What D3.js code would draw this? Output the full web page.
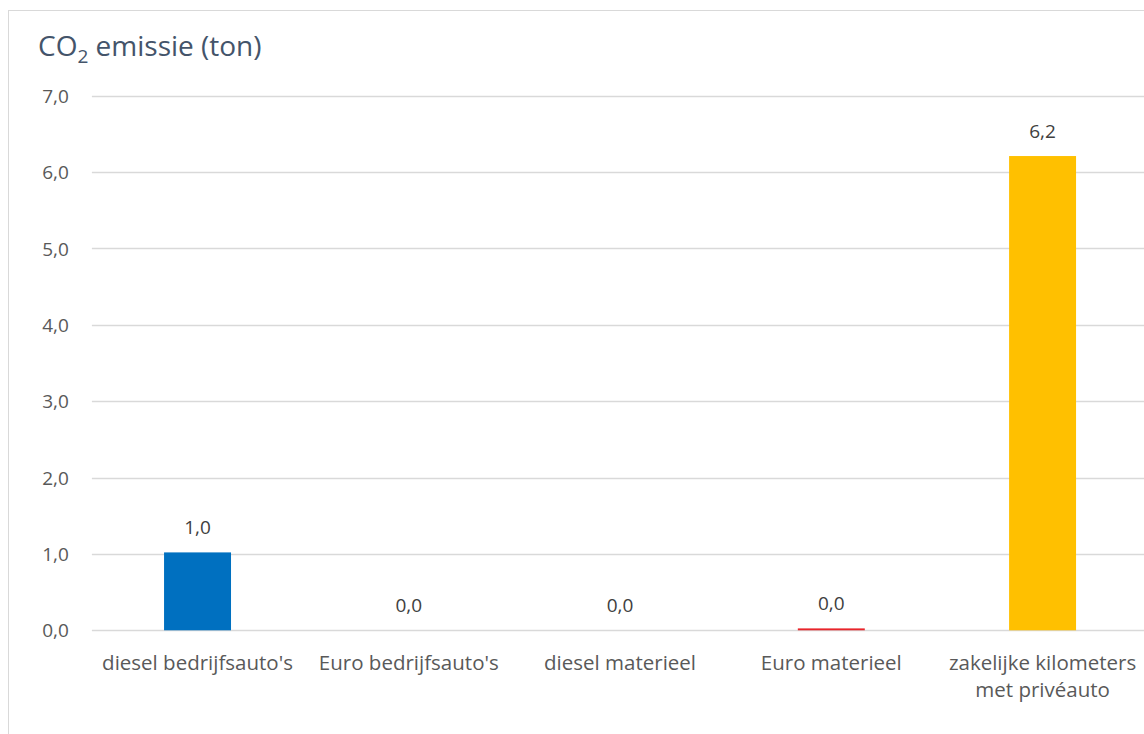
<!DOCTYPE html>
<html><head><meta charset="utf-8">
<script src="https://cdn.jsdelivr.net/npm/d3@7/dist/d3.min.js"></script>
<style>
html,body{margin:0;padding:0;background:#fff;overflow:hidden;}
svg{display:block;font-family:"Open Sans","Noto Sans",sans-serif;}
</style></head><body>
<script>
const categories = ["diesel bedrijfsauto's","Euro bedrijfsauto's","diesel materieel","Euro materieel","zakelijke kilometers|met privéauto"];
const values = [1.02, 0.0, 0.0, 0.025, 6.21];
const barColors = ["#0070c0","#0070c0","#0070c0","#e8252b","#ffc000"];
const yTicks = [0,1,2,3,4,5,6,7];

(function(){
const W=1144,H=734;
const FS="19px";
const svg=d3.select("body").append("svg").attr("width",W).attr("height",H);
svg.append("rect").attr("x",8.5).attr("y",10.5).attr("width",1200).attr("height",800)
  .attr("fill","#fff").attr("stroke","#d9d9d9").attr("stroke-width",1);

const pL=91.9, pR=1148.2, pT=95.7, pB=630.3;
const x=d3.scaleBand().domain(categories).range([pL,pR]).paddingInner(0.683).paddingOuter(0.3415);
const y=d3.scaleLinear().domain([0,7]).range([pB,pT]);

const fmt=v=>d3.format(".1f")(v).replace(".",",");

svg.append("g").selectAll("line").data(yTicks).join("line")
  .attr("x1",pL).attr("x2",pR).attr("y1",d=>Math.round(y(d))+0.5).attr("y2",d=>Math.round(y(d))+0.5)
  .attr("stroke","#d9d9d9").attr("stroke-width",1.3);

const yAxis=d3.axisLeft(y).tickValues(yTicks).tickFormat(fmt).tickSize(0).tickPadding(0);
const ga=svg.append("g").attr("transform",`translate(${pL-23},0)`).call(yAxis);
ga.select(".domain").remove();
ga.attr("font-family",null).attr("font-size",null);
ga.selectAll("text").attr("fill","#595959").style("font-size",FS).attr("dy","0.35em");

svg.append("g").selectAll("rect").data(values).join("rect")
  .attr("x",(d,i)=>x(categories[i])).attr("width",x.bandwidth())
  .attr("y",d=>y(d)).attr("height",d=>pB-y(d)).attr("fill",(d,i)=>barColors[i]);

svg.append("g").selectAll("text").data(values).join("text")
  .attr("x",(d,i)=>x(categories[i])+x.bandwidth()/2).attr("y",d=>y(d)-18)
  .attr("text-anchor","middle").attr("fill","#404040").style("font-size",FS).text(d=>fmt(d));

const xAxis=d3.axisBottom(x).tickSize(0).tickPadding(0).tickFormat(()=>"");
const gx=svg.append("g").attr("transform",`translate(0,${pB})`).call(xAxis);
gx.select(".domain").remove();
gx.attr("font-family",null).attr("font-size",null);
gx.selectAll(".tick").each(function(d){
  const lines=d.split("|");
  const t=d3.select(this).append("text").attr("text-anchor","middle").attr("fill","#595959").style("font-size","20.5px");
  lines.forEach((l,j)=>t.append("tspan").attr("x",0).attr("y",40+j*27).text(l));
});

const title=svg.append("text").attr("x",38).attr("y",56).attr("fill","#44546a").style("font-size","28px");
title.append("tspan").text("CO");
title.append("tspan").attr("dy",7).style("font-size","19px").text("2");
title.append("tspan").attr("dy",-7).text(" emissie (ton)");
})();
</script>
</body></html>
